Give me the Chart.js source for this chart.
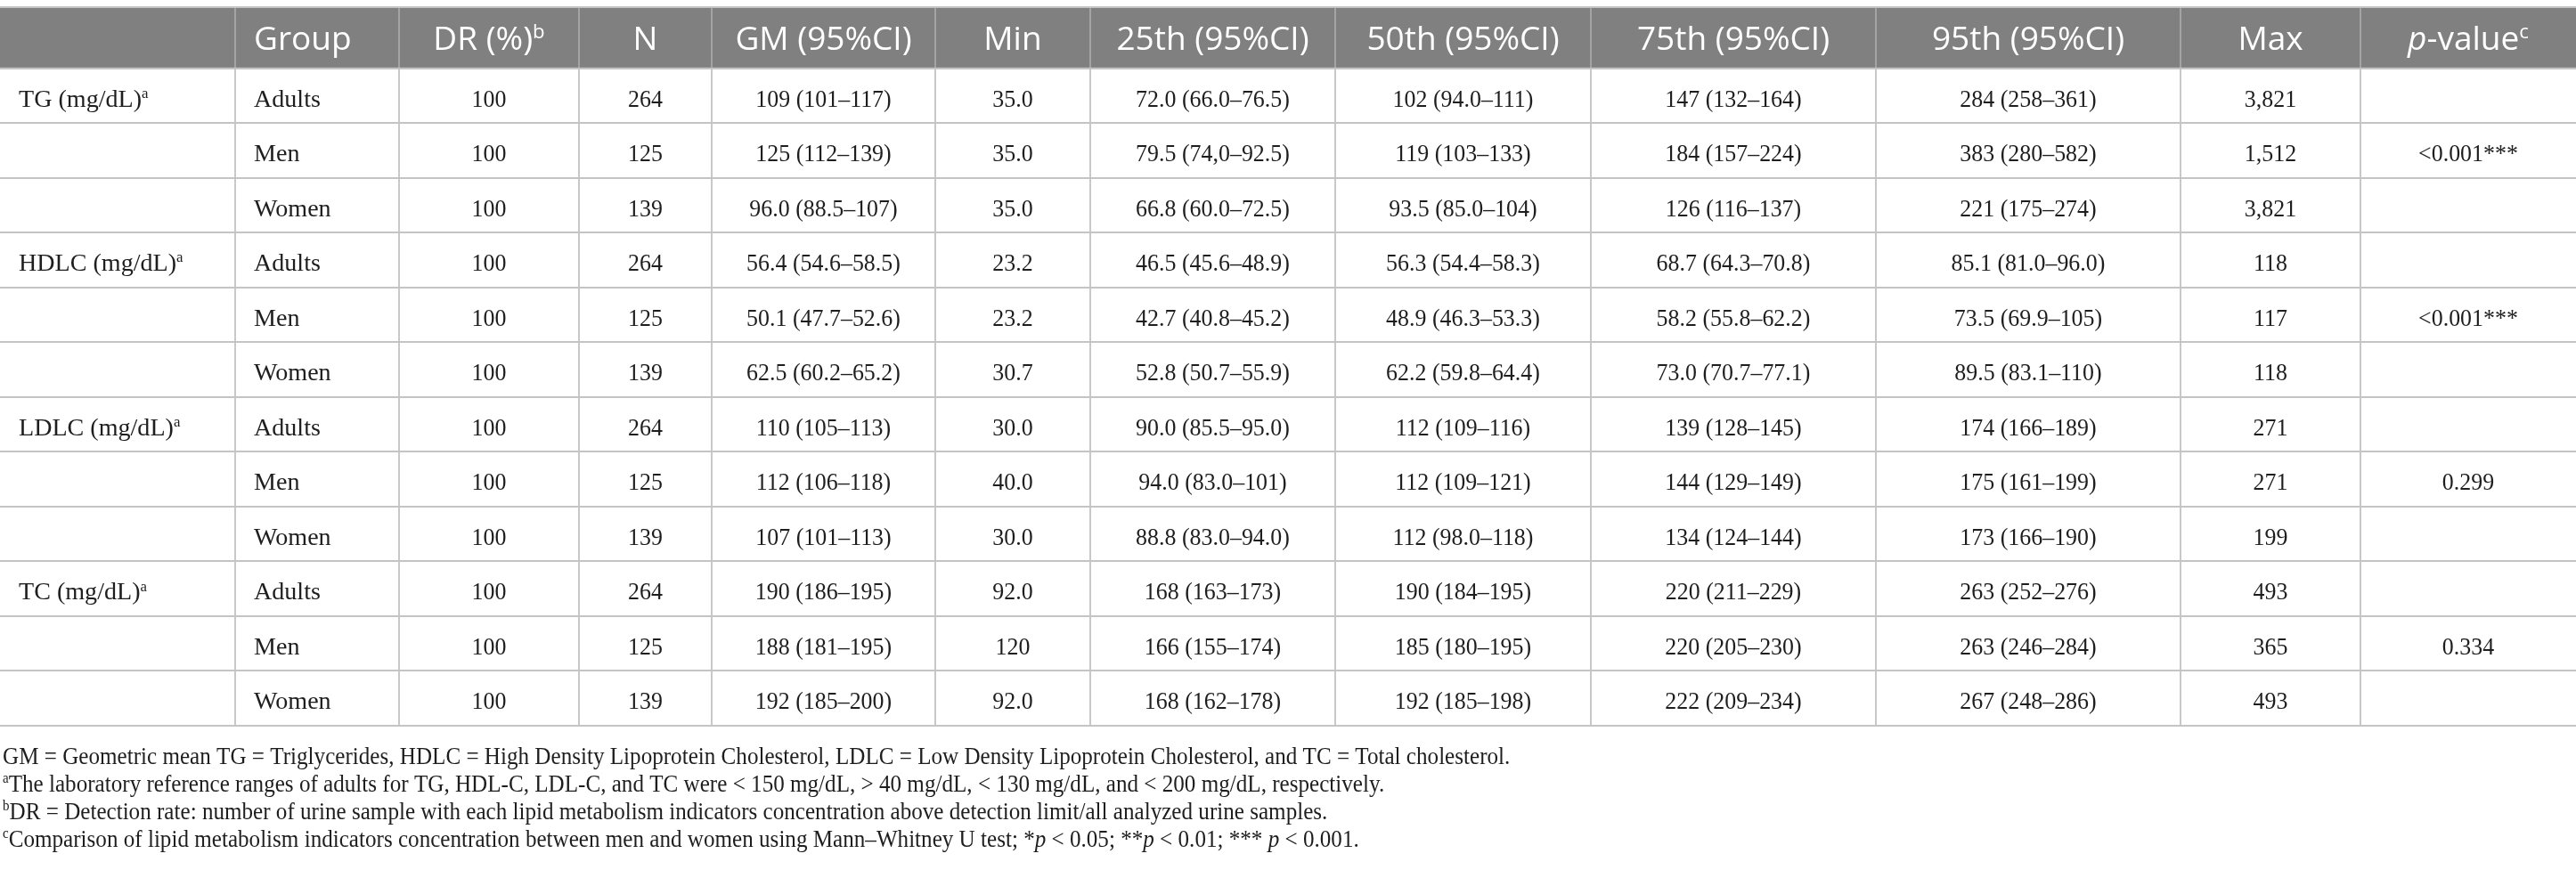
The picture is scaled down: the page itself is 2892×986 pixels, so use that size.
<!DOCTYPE html>
<html>
<head>
  <script src="https://cdn.jsdelivr.net/npm/chart.js"></script>
  <style>
    html, body { margin: 0; padding: 0; background: #fff; }
    canvas { display: block; }
  </style>
</head>
<body>
  <canvas id="lipidTable" width="2892" height="986"></canvas>

  <script>
    // Table contents
    const indicators = ['TG (mg/dL)', 'HDLC (mg/dL)', 'LDLC (mg/dL)', 'TC (mg/dL)'];
    const groups = ['Adults', 'Men', 'Women'];
    const headerLabels = ['', 'Group', 'DR (%)', 'N', 'GM (95%CI)', 'Min', '25th (95%CI)', '50th (95%CI)',
                          '75th (95%CI)', '95th (95%CI)', 'Max', '-value'];
    const headerSup = ['', '', 'b', '', '', '', '', '', '', '', '', 'c'];

    const detectionRate = ['100', '100', '100', '100', '100', '100', '100', '100', '100', '100', '100', '100'];
    const sampleN = ['264', '125', '139', '264', '125', '139', '264', '125', '139', '264', '125', '139'];
    const gmCI = ['109 (101–117)', '125 (112–139)', '96.0 (88.5–107)',
                  '56.4 (54.6–58.5)', '50.1 (47.7–52.6)', '62.5 (60.2–65.2)',
                  '110 (105–113)', '112 (106–118)', '107 (101–113)',
                  '190 (186–195)', '188 (181–195)', '192 (185–200)'];
    const minVal = ['35.0', '35.0', '35.0', '23.2', '23.2', '30.7', '30.0', '40.0', '30.0', '92.0', '120', '92.0'];
    const p25CI = ['72.0 (66.0–76.5)', '79.5 (74,0–92.5)', '66.8 (60.0–72.5)',
                   '46.5 (45.6–48.9)', '42.7 (40.8–45.2)', '52.8 (50.7–55.9)',
                   '90.0 (85.5–95.0)', '94.0 (83.0–101)', '88.8 (83.0–94.0)',
                   '168 (163–173)', '166 (155–174)', '168 (162–178)'];
    const p50CI = ['102 (94.0–111)', '119 (103–133)', '93.5 (85.0–104)',
                   '56.3 (54.4–58.3)', '48.9 (46.3–53.3)', '62.2 (59.8–64.4)',
                   '112 (109–116)', '112 (109–121)', '112 (98.0–118)',
                   '190 (184–195)', '185 (180–195)', '192 (185–198)'];
    const p75CI = ['147 (132–164)', '184 (157–224)', '126 (116–137)',
                   '68.7 (64.3–70.8)', '58.2 (55.8–62.2)', '73.0 (70.7–77.1)',
                   '139 (128–145)', '144 (129–149)', '134 (124–144)',
                   '220 (211–229)', '220 (205–230)', '222 (209–234)'];
    const p95CI = ['284 (258–361)', '383 (280–582)', '221 (175–274)',
                   '85.1 (81.0–96.0)', '73.5 (69.9–105)', '89.5 (83.1–110)',
                   '174 (166–189)', '175 (161–199)', '173 (166–190)',
                   '263 (252–276)', '263 (246–284)', '267 (248–286)'];
    const maxVal = ['3,821', '1,512', '3,821', '118', '117', '118', '271', '271', '199', '493', '365', '493'];
    const pValue = ['', '<0.001***', '', '', '<0.001***', '', '', '0.299', '', '', '0.334', ''];

    const footnotes = [
      [{ t: 'GM = Geometric mean TG = Triglycerides, HDLC = High Density Lipoprotein Cholesterol, LDLC = Low Density Lipoprotein Cholesterol, and TC = Total cholesterol.' }],
      [{ t: 'a', sup: true }, { t: 'The laboratory reference ranges of adults for TG, HDL-C, LDL-C, and TC were < 150 mg/dL, > 40 mg/dL, < 130 mg/dL, and < 200 mg/dL, respectively.' }],
      [{ t: 'b', sup: true }, { t: 'DR = Detection rate: number of urine sample with each lipid metabolism indicators concentration above detection limit/all analyzed urine samples.' }],
      [{ t: 'c', sup: true }, { t: 'Comparison of lipid metabolism indicators concentration between men and women using Mann–Whitney U test; *' },
       { t: 'p', it: true }, { t: ' < 0.05; **' }, { t: 'p', it: true }, { t: ' < 0.01; *** ' }, { t: 'p', it: true }, { t: ' < 0.001.' }]
    ];

    // Layout (x-scale units = page pixels, y-scale units = body rows)
    const colEdges = [0, 264, 448, 650, 799, 1050, 1224, 1499, 1786, 2106, 2448, 2650, 2892];
    const headerRows = 1.12;
    const bodyRows = 12;
    const leftAligned = [true, true, false, false, false, false, false, false, false, false, false, false];
    const cellPad = 21;

    const SERIF = '"Liberation Serif", "DejaVu Serif", serif';
    const SANS = '"Open Sans", "Noto Sans", sans-serif';
    const labelFont = { size: 27, family: SERIF, sx: 1.04, color: '#1e1e1e' };
    const numFont = { size: 27, family: SERIF, sx: 0.96, color: '#1e1e1e' };
    const headFont = { size: 37, family: SANS, sx: 1, color: '#ffffff' };
    const noteFont = { size: 27, family: SERIF, sx: 0.93, color: '#1e1e1e' };

    // Text with superscripts / italics, optional horizontal squeeze
    function drawRich(ctx, segs, x, y, align, f) {
        const parts = segs.map(s => {
            const fs = s.sup ? f.size * 0.6 : f.size;
            const font = (s.it ? 'italic ' : '') + fs + 'px ' + f.family;
            ctx.font = font;
            return { text: s.t, font, w: ctx.measureText(s.t).width * f.sx, dy: s.sup ? -f.size * 0.36 : 0 };
        });
        const total = parts.reduce((a, p) => a + p.w, 0);
        let cx = align === 'center' ? x - total / 2 : x;
        ctx.fillStyle = f.color;
        ctx.textAlign = 'left';
        ctx.textBaseline = 'alphabetic';
        parts.forEach(p => {
            ctx.save();
            ctx.translate(cx, y + p.dy);
            ctx.scale(f.sx, 1);
            ctx.font = p.font;
            ctx.fillText(p.text, 0, 0);
            ctx.restore();
            cx += p.w;
        });
    }

    function rowCells(r) {
        const g = r % 3;
        const first = g === 0 ? [{ t: indicators[r / 3] }, { t: 'a', sup: true }] : [];
        return [first, [{ t: groups[g] }], [{ t: detectionRate[r] }], [{ t: sampleN[r] }], [{ t: gmCI[r] }],
                [{ t: minVal[r] }], [{ t: p25CI[r] }], [{ t: p50CI[r] }], [{ t: p75CI[r] }],
                [{ t: p95CI[r] }], [{ t: maxVal[r] }], [{ t: pValue[r] }]];
    }

    function cellX(x, c) {
        return leftAligned[c] ? x.getPixelForValue(colEdges[c]) + cellPad
                              : x.getPixelForValue((colEdges[c] + colEdges[c + 1]) / 2);
    }

    const tablePlugin = {
        id: 'tableCells',
        beforeDraw(chart) {
            const ctx = chart.ctx;
            ctx.save();
            ctx.fillStyle = '#ffffff';
            ctx.fillRect(0, 0, chart.width, chart.height);
            ctx.restore();
        },
        beforeDatasetsDraw(chart) {
            // grey header band, with lighter separators
            const { ctx, scales: { x, y } } = chart;
            const top = y.getPixelForValue(-headerRows);
            const bottom = y.getPixelForValue(0);
            ctx.save();
            ctx.fillStyle = '#808080';
            ctx.fillRect(x.left, top + 1, x.right - x.left, bottom - top - 2);
            ctx.strokeStyle = '#a4a4a4';
            ctx.lineWidth = 2;
            colEdges.slice(1, -1).forEach(v => {
                const px = Math.round(x.getPixelForValue(v));
                ctx.beginPath();
                ctx.moveTo(px, top + 1);
                ctx.lineTo(px, bottom - 1);
                ctx.stroke();
            });
            ctx.restore();
        },
        afterDraw(chart) {
            const { ctx, scales: { x, y } } = chart;
            ctx.save();
            // header
            const hy = y.getPixelForValue(-headerRows / 2) + 14;
            headerLabels.forEach((lab, c) => {
                const segs = [];
                if (c === 11) segs.push({ t: 'p', it: true });
                segs.push({ t: lab });
                if (headerSup[c]) segs.push({ t: headerSup[c], sup: true });
                drawRich(ctx, segs, cellX(x, c), hy, leftAligned[c] ? 'left' : 'center', headFont);
            });
            // body
            for (let r = 0; r < bodyRows; r++) {
                const by = y.getPixelForValue(r + 0.5) + 12;
                rowCells(r).forEach((segs, c) => {
                    if (!segs.length || !segs[0].t) return;
                    drawRich(ctx, segs, cellX(x, c), by, leftAligned[c] ? 'left' : 'center',
                             c < 2 ? labelFont : numFont);
                });
            }
            // footnotes
            const base = y.getPixelForValue(bodyRows);
            footnotes.forEach((segs, i) => {
                drawRich(ctx, segs, x.left + 3, base + 43 + i * 31, 'left', noteFont);
            });
            ctx.restore();
        }
    };

    const rowEdges = [-headerRows];
    for (let i = 0; i <= bodyRows; i++) rowEdges.push(i);

    new Chart(document.getElementById('lipidTable').getContext('2d'), {
        type: 'scatter',
        data: { datasets: [] },
        options: {
            responsive: false,
            animation: false,
            devicePixelRatio: 1,
            layout: { padding: { top: 8, bottom: 171, left: 0, right: 0 } },
            plugins: { legend: { display: false }, tooltip: { enabled: false } },
            scales: {
                x: {
                    type: 'linear', min: 0, max: 2892,
                    afterBuildTicks: s => { s.ticks = colEdges.slice(1, -1).map(v => ({ value: v })); },
                    ticks: { display: false },
                    grid: { color: '#c8c8c8', lineWidth: 2, drawTicks: false },
                    border: { display: false }
                },
                y: {
                    type: 'linear', reverse: true, min: -headerRows, max: bodyRows,
                    afterBuildTicks: s => { s.ticks = rowEdges.map(v => ({ value: v })); },
                    ticks: { display: false },
                    grid: { color: '#c4c4c4', lineWidth: 2, drawTicks: false },
                    border: { display: false }
                }
            }
        },
        plugins: [tablePlugin]
    });
  </script>
</body>
</html>
